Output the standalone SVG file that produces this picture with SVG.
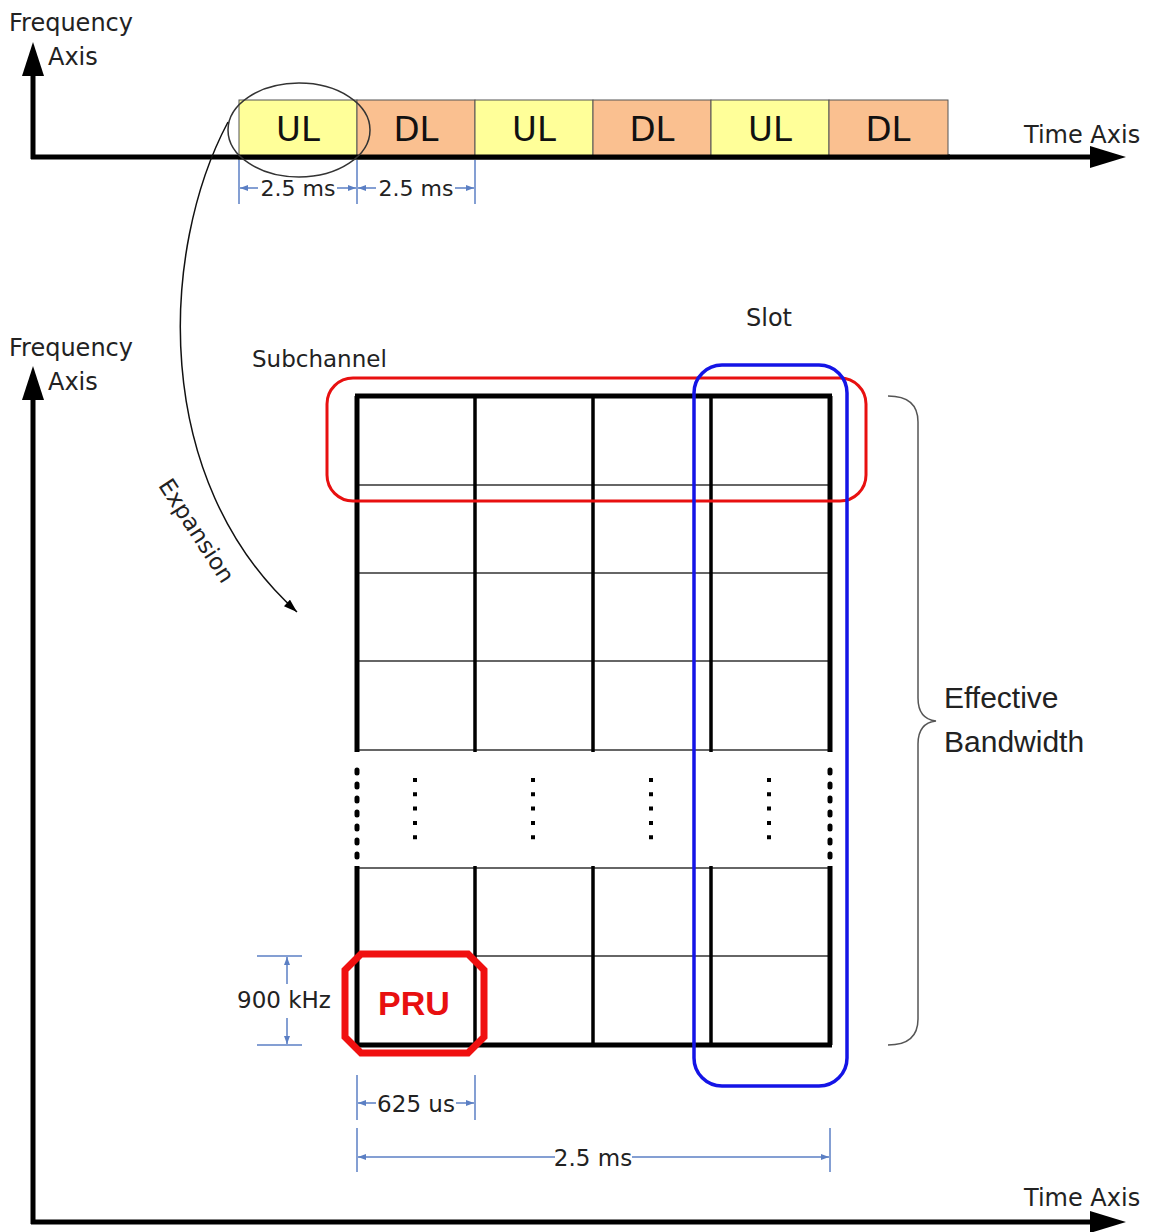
<svg xmlns="http://www.w3.org/2000/svg" width="1152" height="1232" viewBox="0 0 1152 1232">
<style>
  .lbl { font-family: "DejaVu Sans", "Liberation Sans", sans-serif; fill: #222; }
  .axis { stroke: #000; stroke-width: 5; fill: none; }
  .ul { fill: #FFFF99; stroke: #555; stroke-width: 1; }
  .dl { fill: #FAC090; stroke: #555; stroke-width: 1; }
  .box { font-family: "DejaVu Sans", "Liberation Sans", sans-serif; font-size: 34px; fill: #111; text-anchor: middle; }
  .dim { stroke: #5B7FC4; stroke-width: 1.5; fill: none; }
  .dima { stroke: #5B7FC4; stroke-width: 1.5; fill: none; marker-end: url(#da); }
  .thick { stroke: #000; stroke-width: 5; fill: none; }
  .mid { stroke: #000; stroke-width: 3.5; fill: none; }
  .thin { stroke: #333; stroke-width: 1.5; fill: none; }
</style>
<defs>
  <marker id="da" viewBox="0 0 8 6" refX="8" refY="3" markerWidth="8" markerHeight="6" markerUnits="userSpaceOnUse" orient="auto">
    <path d="M0,0 L8,3 L0,6 z" fill="#5B7FC4"/>
  </marker>
  <marker id="ea" viewBox="0 0 12 8" refX="12" refY="4" markerWidth="14" markerHeight="9" markerUnits="userSpaceOnUse" orient="auto">
    <path d="M0,0 L12,4 L0,8 z" fill="#000"/>
  </marker>
</defs>
<rect width="1152" height="1232" fill="#fff"/>

<g id="top-axes">
  <line class="axis" x1="31" y1="157" x2="1092" y2="157"/>
  <polygon points="1126,157 1090,146 1090,168" fill="#000"/>
  <line class="axis" x1="33" y1="159" x2="33" y2="74"/>
  <polygon points="33,42 22,76 44,76" fill="#000"/>
  <text class="lbl" x="9" y="31" font-size="24">Frequency</text>
  <text class="lbl" x="48" y="65" font-size="24">Axis</text>
  <text class="lbl" x="1024" y="143" font-size="24">Time Axis</text>
</g>

<g id="frames">
  <g id="f1"><rect class="ul" x="239" y="100" width="118" height="57"/><text class="box" x="298" y="141">UL</text></g>
  <g id="f2"><rect class="dl" x="357" y="100" width="118" height="57"/><text class="box" x="416" y="141">DL</text></g>
  <g id="f3"><rect class="ul" x="475" y="100" width="118" height="57"/><text class="box" x="534" y="141">UL</text></g>
  <g id="f4"><rect class="dl" x="593" y="100" width="118" height="57"/><text class="box" x="652" y="141">DL</text></g>
  <g id="f5"><rect class="ul" x="711" y="100" width="118" height="57"/><text class="box" x="770" y="141">UL</text></g>
  <g id="f6"><rect class="dl" x="829" y="100" width="119" height="57"/><text class="box" x="888" y="141">DL</text></g>
  <line class="axis" x1="238" y1="157" x2="950" y2="157"/>
</g>

<g id="top-dims">
  <line class="dim" x1="239" y1="160" x2="239" y2="204"/>
  <line class="dim" x1="357" y1="160" x2="357" y2="204"/>
  <line class="dim" x1="475" y1="160" x2="475" y2="204"/>
  <line class="dima" x1="258" y1="188" x2="240" y2="188"/>
  <line class="dima" x1="337" y1="188" x2="356" y2="188"/>
  <line class="dima" x1="376" y1="188" x2="358" y2="188"/>
  <line class="dima" x1="455" y1="188" x2="474" y2="188"/>
  <text class="lbl" x="298" y="196" font-size="22" text-anchor="middle">2.5 ms</text>
  <text class="lbl" x="416" y="196" font-size="22" text-anchor="middle">2.5 ms</text>
</g>

<g id="expansion">
  <ellipse cx="299" cy="130" rx="71" ry="47" fill="none" stroke="#333" stroke-width="1.5"/>
  <path d="M228,122 C160,250 150,480 297,612" fill="none" stroke="#111" stroke-width="1.5" marker-end="url(#ea)"/>
  <text class="lbl" font-size="23" text-anchor="middle" transform="translate(190,535) rotate(57)">Expansion</text>
</g>

<g id="bottom-axes">
  <line class="axis" x1="31" y1="1222" x2="1092" y2="1222"/>
  <polygon points="1126,1222 1090,1211 1090,1233" fill="#000"/>
  <line class="axis" x1="33" y1="1224" x2="33" y2="398"/>
  <polygon points="33,366 22,400 44,400" fill="#000"/>
  <text class="lbl" x="9" y="356" font-size="24">Frequency</text>
  <text class="lbl" x="48" y="390" font-size="24">Axis</text>
  <text class="lbl" x="1024" y="1206" font-size="24">Time Axis</text>
</g>

<g id="grid">
  <line class="thin" x1="357" y1="485" x2="830" y2="485"/>
  <line class="thin" x1="357" y1="573" x2="830" y2="573"/>
  <line class="thin" x1="357" y1="661" x2="830" y2="661"/>
  <line class="thin" x1="357" y1="750" x2="830" y2="750"/>
  <line class="thin" x1="357" y1="868" x2="830" y2="868"/>
  <line class="thin" x1="357" y1="956" x2="830" y2="956"/>
  <line class="thick" x1="357" y1="396" x2="357" y2="752"/>
  <line class="mid" x1="475" y1="396" x2="475" y2="752"/>
  <line class="mid" x1="593" y1="396" x2="593" y2="752"/>
  <line class="mid" x1="711" y1="396" x2="711" y2="752"/>
  <line class="thick" x1="830" y1="396" x2="830" y2="752"/>
  <line class="thick" x1="357" y1="866" x2="357" y2="1045"/>
  <line class="mid" x1="475" y1="866" x2="475" y2="1045"/>
  <line class="mid" x1="593" y1="866" x2="593" y2="1045"/>
  <line class="mid" x1="711" y1="866" x2="711" y2="1045"/>
  <line class="thick" x1="830" y1="866" x2="830" y2="1045"/>
  <line class="thick" x1="355" y1="396" x2="832" y2="396"/>
  <line class="thick" x1="355" y1="1045" x2="832" y2="1045"/>
  <g stroke="#000" stroke-width="5" stroke-dasharray="3 11" stroke-linecap="round">
    <line x1="357" y1="770" x2="357" y2="858"/>
    <line x1="830" y1="770" x2="830" y2="858"/>
  </g>
  <g stroke="#000" stroke-width="4" stroke-dasharray="4 10.3">
    <line x1="415" y1="778" x2="415" y2="842"/>
    <line x1="533" y1="778" x2="533" y2="842"/>
    <line x1="651" y1="778" x2="651" y2="842"/>
    <line x1="769" y1="778" x2="769" y2="842"/>
  </g>
</g>

<g id="subchannel">
  <rect x="327" y="378" width="539" height="123" rx="26" fill="none" stroke="#E81010" stroke-width="3"/>
  <text class="lbl" x="252" y="367" font-size="23">Subchannel</text>
</g>

<g id="slot">
  <rect x="694" y="365" width="153" height="721" rx="28" fill="none" stroke="#1414E6" stroke-width="3.5"/>
  <text class="lbl" x="746" y="326" font-size="24">Slot</text>
</g>

<g id="pru">
  <polygon points="361,954 468,954 484,970 484,1037 468,1053 361,1053 345,1037 345,970" fill="none" stroke="#F01010" stroke-width="7" stroke-linejoin="miter"/>
  <text x="414" y="1015" font-family="Liberation Sans, Arial, sans-serif" font-weight="bold" font-size="34" fill="#E81010" text-anchor="middle">PRU</text>
</g>

<g id="bandwidth">
  <path d="M888,396 Q918,396 918,422 L918,698 Q918,719 936,721 Q918,723 918,744 L918,1019 Q918,1045 888,1045" fill="none" stroke="#555" stroke-width="1.5"/>
  <text x="944" y="708" font-family="Liberation Sans, Arial, sans-serif" font-size="30" fill="#222">Effective</text>
  <text x="944" y="752" font-family="Liberation Sans, Arial, sans-serif" font-size="30" fill="#222">Bandwidth</text>
</g>

<g id="dims">
  <line class="dim" x1="257" y1="956" x2="302" y2="956"/>
  <line class="dim" x1="257" y1="1045" x2="302" y2="1045"/>
  <line class="dima" x1="287" y1="984" x2="287" y2="957"/>
  <line class="dima" x1="287" y1="1018" x2="287" y2="1044"/>
  <text class="lbl" x="237" y="1008" font-size="23">900 kHz</text>

  <line class="dim" x1="357" y1="1075" x2="357" y2="1120"/>
  <line class="dim" x1="475" y1="1075" x2="475" y2="1120"/>
  <line class="dima" x1="376" y1="1103" x2="358" y2="1103"/>
  <line class="dima" x1="456" y1="1103" x2="474" y2="1103"/>
  <text class="lbl" x="416" y="1112" font-size="23" text-anchor="middle">625 us</text>

  <line class="dim" x1="357" y1="1128" x2="357" y2="1172"/>
  <line class="dim" x1="830" y1="1128" x2="830" y2="1172"/>
  <line class="dima" x1="555" y1="1157" x2="358" y2="1157"/>
  <line class="dima" x1="632" y1="1157" x2="829" y2="1157"/>
  <text class="lbl" x="593" y="1166" font-size="23" text-anchor="middle">2.5 ms</text>
</g>
</svg>
